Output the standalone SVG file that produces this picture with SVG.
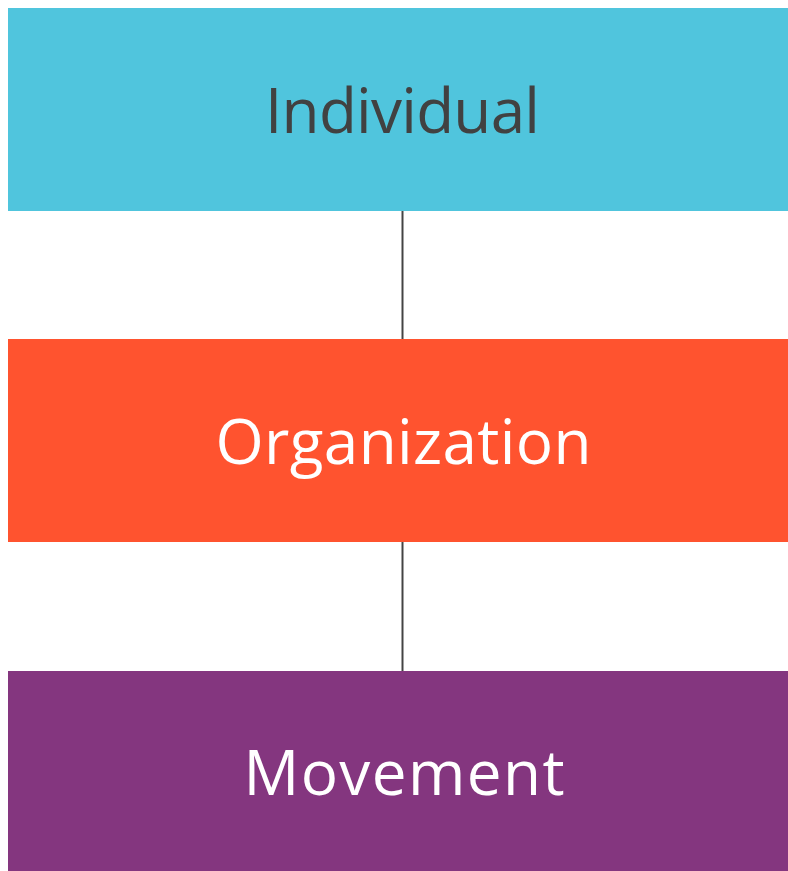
<svg xmlns="http://www.w3.org/2000/svg" width="788" height="871" viewBox="0 0 788 871">
<style>
.lbl{font-family:"Open Sans","Liberation Sans",sans-serif;font-size:62px;text-anchor:middle}
.edge{stroke:#444;stroke-width:2;fill:none}
</style>
<rect width="788" height="871" fill="#fff"/>
<g id="connectors">
<line class="edge" x1="402.5" y1="211" x2="402.5" y2="339"/>
<line class="edge" x1="402.5" y1="542" x2="402.5" y2="671"/>
</g>
<g id="individual">
<rect x="8" y="8" width="780" height="203" fill="#50C5DD"/>
<text class="lbl" x="402.5" y="133" fill="#414141" textLength="275">Individual</text>
</g>
<g id="organization">
<rect x="8" y="339" width="780" height="203" fill="#FF532F"/>
<text class="lbl" x="403.5" y="464" fill="#fff" textLength="376">Organization</text>
</g>
<g id="movement">
<rect x="8" y="671" width="780" height="200" fill="#84367F"/>
<text class="lbl" x="404" y="795" fill="#fff" textLength="321">Movement</text>
</g>
</svg>
